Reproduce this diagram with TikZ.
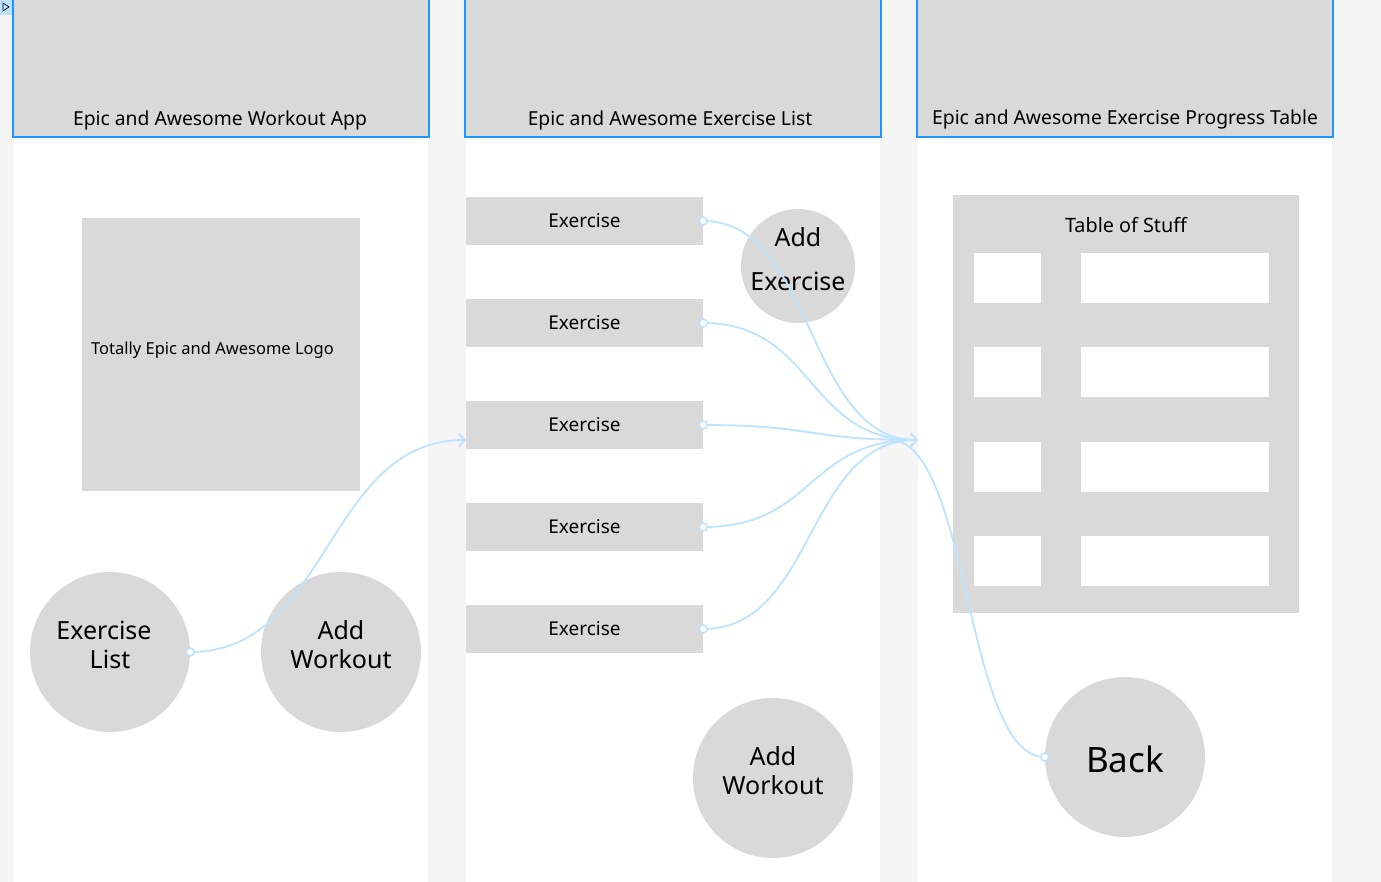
\documentclass[tikz,border=0pt]{standalone}
\usepackage{fontspec}
\setmainfont{Noto Sans}
\usetikzlibrary{arrows.meta}
\definecolor{bggray}{HTML}{F5F5F5}
\definecolor{boxgray}{HTML}{D9D9D9}
\definecolor{hdrblue}{HTML}{1E96FF}
\definecolor{linkblue}{HTML}{BDE3FF}
\definecolor{tagblue}{HTML}{BDE3FF}
\tikzset{
  hdr/.style={rectangle, fill=boxgray, draw=hdrblue, line width=2pt, inner sep=0pt, minimum width=416pt, minimum height=160pt, anchor=south},
  hdrtext/.style={font=\fontsize{19.3}{22}\selectfont, inner sep=0pt},
  colbox/.style={rectangle, fill=white, inner sep=0pt, minimum width=414pt, minimum height=882pt, anchor=north},
  exbox/.style={rectangle, fill=boxgray, inner sep=0pt, minimum width=237pt, minimum height=48pt, font=\fontsize{19}{22}\selectfont},
  bigcirc/.style={circle, fill=boxgray, inner sep=0pt, minimum size=160pt},
  ctext/.style={font=\fontsize{25}{29}\selectfont, inner sep=0pt},
  cell/.style={rectangle, fill=white, inner sep=0pt, minimum height=50pt},
  link/.style={draw=linkblue, line width=1.8pt},
  linkarrow/.style={link, -{Straight Barb[length=6pt,width=13pt,line width=1.8pt]}},
  dot/.style={circle, draw=linkblue, fill=white, line width=1.5pt, minimum size=8pt, inner sep=0pt},
}
\begin{document}
\begin{tikzpicture}[x=1pt,y=-1pt]
\useasboundingbox (0,0) rectangle (1381,882);
\fill[bggray] (0,0) rectangle (1381,882);
% columns
\node[colbox] (col1) at (221,0) {};
\node[colbox] (col2) at (673,0) {};
\node[colbox] (col3) at (1125,0) {};
% headers
\node[hdr] (h1) at (221,138) {};
\node[hdr] (h2) at (673,138) {};
\node[hdr] (h3) at (1125,138) {};
\node[hdrtext] (h1t) at (220,120) {Epic and Awesome Workout App};
\node[hdrtext] (h2t) at (670,120) {Epic and Awesome Exercise List};
\node[hdrtext] (h3t) at (1125,119) {Epic and Awesome Exercise Progress Table};
% tag icon
\fill[tagblue] (0,0) rectangle (12,15);
\draw[black, line width=0.7pt] (3,3) -- (3,11) -- (9,7) -- cycle;
% column 1
\node[rectangle, fill=boxgray, inner sep=0pt, minimum width=278pt, minimum height=273pt] (logo) at (221,354.5) {};
\node[anchor=west, inner sep=0pt, font=\fontsize{16.5}{20}\selectfont] (logot) at (91,350) {Totally Epic and Awesome Logo};
\node[bigcirc] (exlist) at (110,652) {};
\node[ctext] (exlistt1) at (104,630) {Exercise};
\node[ctext] (exlistt2) at (110,659) {List};
\node[bigcirc] (addw1) at (341,652) {};
\node[ctext] (addw1t1) at (341,630) {Add};
\node[ctext] (addw1t2) at (341,659) {Workout};
% column 2
\node[exbox] (ex1) at (584.5,221) {Exercise};
\node[exbox] (ex2) at (584.5,323) {Exercise};
\node[exbox] (ex3) at (584.5,425) {Exercise};
\node[exbox] (ex4) at (584.5,527) {Exercise};
\node[exbox] (ex5) at (584.5,629) {Exercise};
\node[circle, fill=boxgray, inner sep=0pt, minimum size=114pt] (addex) at (798,266) {};
\node[ctext] (addext1) at (798,237) {Add};
\node[ctext] (addext2) at (798,281) {Exercise};
\node[bigcirc] (addw2) at (773,778) {};
\node[ctext] (addw2t1) at (773,756) {Add};
\node[ctext] (addw2t2) at (773,785) {Workout};
% column 3
\node[rectangle, fill=boxgray, inner sep=0pt, minimum width=346pt, minimum height=418pt] (table) at (1126,404) {};
\node[font=\fontsize{19.8}{24}\selectfont, inner sep=0pt] (tablet) at (1126,225) {Table of Stuff};
\node[cell, minimum width=67pt] (c11) at (1007.5,278) {};
\node[cell, minimum width=188pt] (c12) at (1175,278) {};
\node[cell, minimum width=67pt] (c21) at (1007.5,372) {};
\node[cell, minimum width=188pt] (c22) at (1175,372) {};
\node[cell, minimum width=67pt] (c31) at (1007.5,466.5) {};
\node[cell, minimum width=188pt] (c32) at (1175,466.5) {};
\node[cell, minimum width=67pt] (c41) at (1007.5,561) {};
\node[cell, minimum width=188pt] (c42) at (1175,561) {};
\node[bigcirc] (back) at (1125,757) {};
\node[font=\fontsize{35}{40}\selectfont, inner sep=0pt] (backt) at (1125,759) {Back};
% connectors
\coordinate (tgt1) at (466,440);
\coordinate (tgt2) at (918,440);
\coordinate (backend) at (890,440);
\draw[linkarrow] (exlist.east) .. controls +(140,0) and +(-140,0) .. (tgt1);
\foreach \e in {ex1,ex2,ex3,ex4,ex5}{
  \draw[linkarrow] (\e.east) .. controls +(112,0) and +(-112,0) .. (tgt2);
}
\draw[link] (back.west) .. controls +(-80,0) and +(80,0) .. (backend);
\node[dot] (d0) at (exlist.east) {};
\node[dot] (d1) at (ex1.east) {};
\node[dot] (d2) at (ex2.east) {};
\node[dot] (d3) at (ex3.east) {};
\node[dot] (d4) at (ex4.east) {};
\node[dot] (d5) at (ex5.east) {};
\node[dot] (d6) at (back.west) {};
\end{tikzpicture}
\end{document}
